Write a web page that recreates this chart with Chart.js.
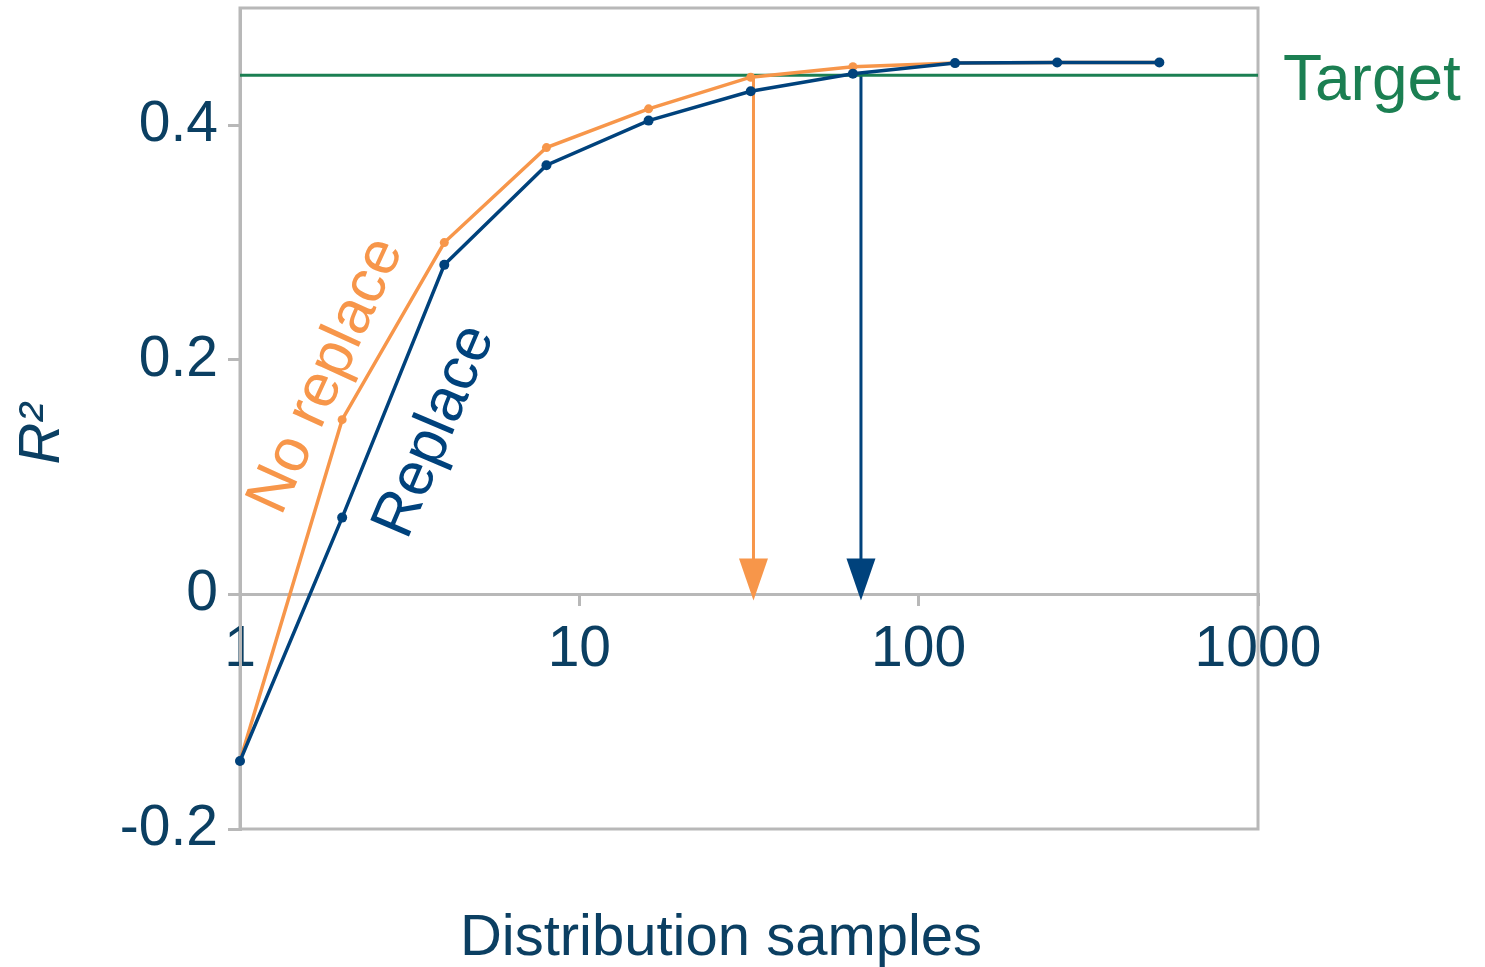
<!DOCTYPE html>
<html>
<head>
<meta charset="utf-8">
<script src="https://cdn.jsdelivr.net/npm/chart.js@4.4.0/dist/chart.umd.min.js"></script>
<style>
  body { margin: 0; background: #fff; }
  #wrap { width: 1485px; height: 967px; position: relative; }
</style>
</head>
<body>
<div id="wrap"><canvas id="r2Chart"></canvas></div>
<script>
// data
const samples = [1, 2, 4, 8, 16, 32, 64, 128, 256, 512];
const noReplace = [-0.142, 0.149, 0.300, 0.381, 0.414, 0.441, 0.450, 0.453, 0.4536, 0.4536];
const replace = [-0.142, 0.0655, 0.281, 0.366, 0.404, 0.429, 0.444, 0.453, 0.4536, 0.4536];
const target = 0.4426;
const noReplaceHit = 32.6;   // where each curve reaches the target
const replaceHit = 67.6;
const xTicks = [1, 10, 100, 1000];
const yTicks = [-0.2, 0, 0.2, 0.4];

const FONT = "'Liberation Sans', Arial, sans-serif";
const ORANGE = '#f7964a';
const NAVY = '#00427c';
const GREEN = '#1b7f52';
const GRAY = '#b8b8b8';
const TEXT = '#0b3f62';

const toPts = (xs, ys) => xs.map((x, i) => ({ x: x, y: ys[i] }));

// frame, arrowheads, rotated series labels and axis titles
const decorations = {
    id: 'decorations',
    beforeDraw(chart) {
        let a = chart.chartArea;
        let ctx = chart.ctx;
        ctx.save();
        ctx.strokeStyle = GRAY;
        ctx.lineWidth = 3;
        ctx.strokeRect(a.left, a.top, a.right - a.left, a.bottom - a.top);
        ctx.restore();
    },
    afterDatasetsDraw(chart) {
        let ctx = chart.ctx;
        let a = chart.chartArea;
        let ys = chart.scales.y;

        // arrow heads on the two drop lines
        [[3, ORANGE], [4, NAVY]].forEach(function(d) {
            let p = chart.getDatasetMeta(d[0]).data[1];
            ctx.save();
            ctx.fillStyle = d[1];
            ctx.beginPath();
            ctx.moveTo(p.x, p.y + 6);
            ctx.lineTo(p.x - 14.5, p.y - 36);
            ctx.lineTo(p.x + 14.5, p.y - 36);
            ctx.closePath();
            ctx.fill();
            ctx.restore();
        });

        ctx.save();
        ctx.font = '61px ' + FONT;
        ctx.textBaseline = 'alphabetic';
        ctx.textAlign = 'left';

        ctx.fillStyle = ORANGE;
        ctx.save();
        ctx.translate(281, 517);
        ctx.rotate(-65.5 * Math.PI / 180);
        ctx.fillText('No replace', 0, 0);
        ctx.restore();

        ctx.fillStyle = NAVY;
        ctx.save();
        ctx.translate(407, 541);
        ctx.rotate(-67 * Math.PI / 180);
        ctx.fillText('Replace', 0, 0);
        ctx.restore();

        // target label
        ctx.fillStyle = GREEN;
        ctx.font = '64px ' + FONT;
        ctx.fillText('Target', a.right + 25, ys.getPixelForValue(target) + 25);

        // axis titles
        ctx.fillStyle = TEXT;
        ctx.font = '58px ' + FONT;
        ctx.textAlign = 'center';
        ctx.fillText('Distribution samples', 721, 955);

        ctx.save();
        ctx.translate(59, 434);
        ctx.rotate(-Math.PI / 2);
        ctx.font = 'italic 58px ' + FONT;
        ctx.fillText('R²', 0, 0);
        ctx.restore();

        ctx.restore();
    }
};

let ctx = document.getElementById('r2Chart').getContext('2d');

new Chart(ctx, {
    type: 'line',
    data: {
        datasets: [
            {
                label: 'Replace',
                data: toPts(samples, replace),
                borderColor: NAVY,
                backgroundColor: NAVY,
                borderWidth: 3.5,
                pointRadius: 5,
                pointBorderWidth: 0,
                clip: false
            },
            {
                label: 'No replace',
                data: toPts(samples, noReplace),
                borderColor: ORANGE,
                backgroundColor: ORANGE,
                borderWidth: 3.5,
                pointRadius: 4.5,
                pointBorderWidth: 0,
                clip: false
            },
            {
                label: 'Target',
                data: [{ x: xTicks[0], y: target }, { x: xTicks[xTicks.length - 1], y: target }],
                borderColor: GREEN,
                borderWidth: 3,
                pointRadius: 0,
                clip: false
            },
            {
                label: 'No replace hit',
                data: [{ x: noReplaceHit, y: target }, { x: noReplaceHit, y: 0 }],
                borderColor: ORANGE,
                borderWidth: 3,
                pointRadius: 0
            },
            {
                label: 'Replace hit',
                data: [{ x: replaceHit, y: target }, { x: replaceHit, y: 0 }],
                borderColor: NAVY,
                borderWidth: 3,
                pointRadius: 0
            }
        ]
    },
    options: {
        responsive: true,
        maintainAspectRatio: false,
        animation: false,
        layout: { padding: { left: 0, top: 8, right: 227, bottom: 138 } },
        plugins: {
            legend: { display: false },
            tooltip: { enabled: false }
        },
        scales: {
            x: {
                type: 'logarithmic',
                min: 1,
                max: 1000,
                position: { y: 0 },
                afterBuildTicks: function(scale) {
                    scale.ticks = xTicks.map(v => ({ value: v }));
                },
                ticks: {
                    autoSkip: false,
                    maxRotation: 0,
                    padding: 12,
                    color: TEXT,
                    font: { family: FONT, size: 57 },
                    callback: v => String(v)
                },
                grid: {
                    drawOnChartArea: false,
                    tickLength: 10,
                    color: GRAY,
                    lineWidth: 3
                },
                border: { color: GRAY, width: 3 }
            },
            y: {
                type: 'linear',
                min: -0.2,
                max: 0.5,
                afterFit: function(scale) {
                    scale.width = 240;
                    scale.paddingTop = 0;
                    scale.paddingBottom = 0;
                },
                afterBuildTicks: function(scale) {
                    scale.ticks = yTicks.map(v => ({ value: v }));
                },
                ticks: {
                    padding: 10,
                    color: TEXT,
                    font: { family: FONT, size: 57 },
                    callback: v => String(v)
                },
                grid: {
                    drawOnChartArea: false,
                    tickLength: 12,
                    color: GRAY,
                    lineWidth: 3
                },
                border: { color: GRAY, width: 3 }
            }
        }
    },
    plugins: [decorations]
});
</script>
</body>
</html>
